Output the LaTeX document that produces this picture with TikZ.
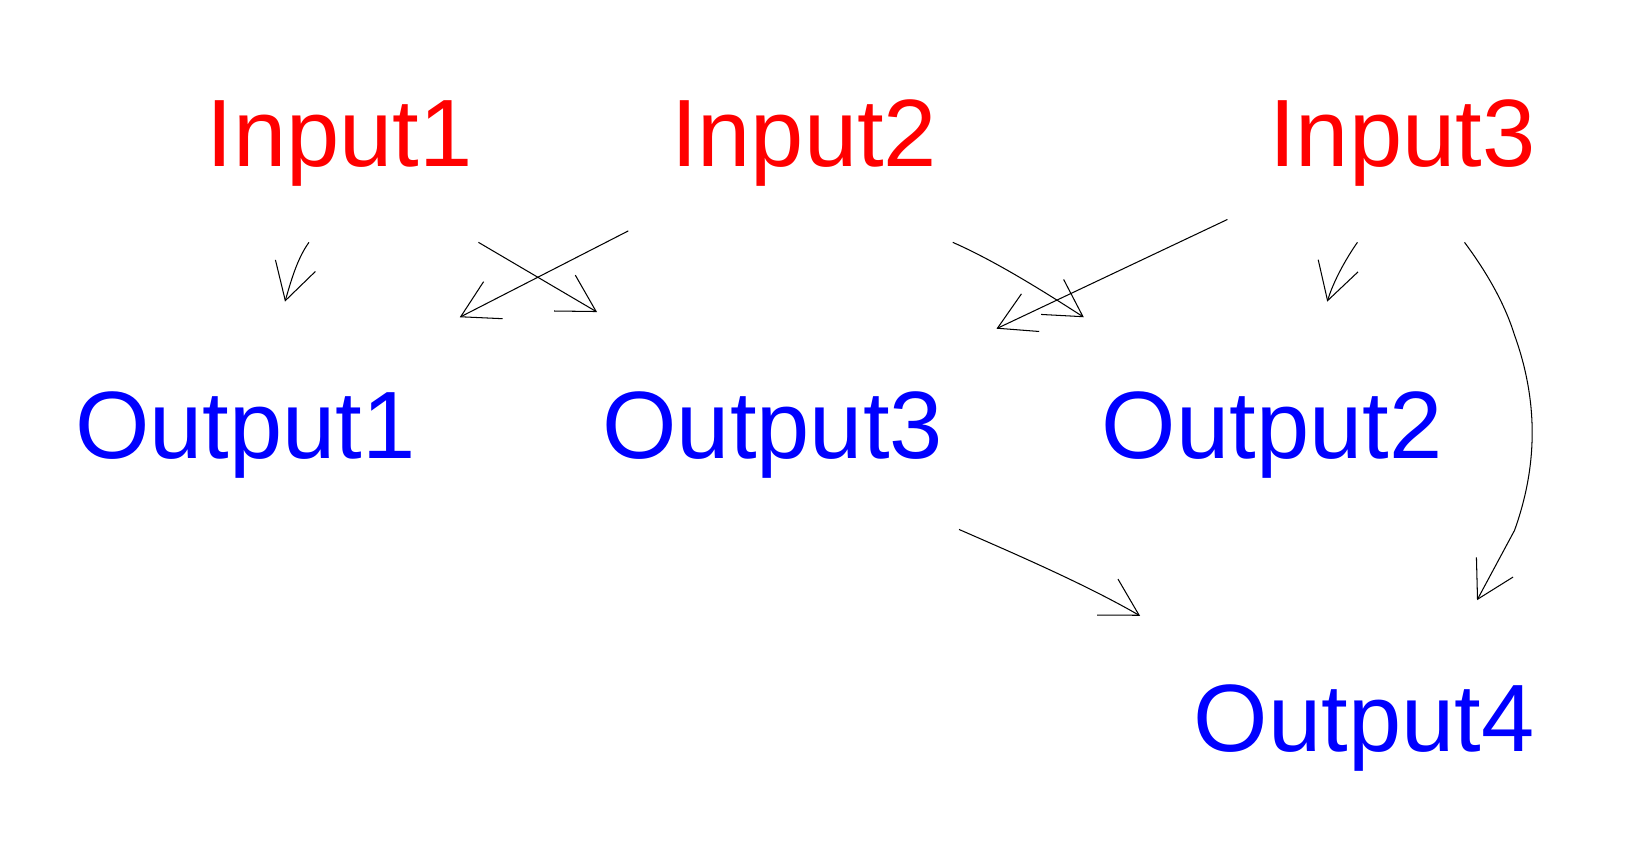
\documentclass[tikz,border=0pt]{standalone}
\usepackage{fontspec}
\setmainfont{Liberation Sans}
\usetikzlibrary{arrows.meta}

\begin{document}
\begin{tikzpicture}[
    x=1pt, y=-1pt,
    innode/.style={text=red, inner sep=0pt, anchor=base west, font=\fontsize{92}{92}\selectfont},
    outnode/.style={innode, text=blue},
    edge/.style={line width=1pt, -{Straight Barb[length=35pt, width=40pt]}}
    ]
    \useasboundingbox (0,0) rectangle (1569,831);

    \node[innode] (in1) at (198.5,160) {Input1};
    \node[innode] (in2) at (645,160) {Input2};
    \node[innode] (in3) at (1220,160) {Input3};

    \node[outnode] (out1) at (72,441) {Output1};
    \node[outnode] (out3) at (579,441) {Output3};
    \node[outnode] (out2) at (1059,441) {Output2};
    \node[outnode] (out4) at (1147.5,722) {Output4};

    \draw[edge] ([shift={(98.5,73)}]in1.base west) .. controls (285.5,249) and (279.5,271) .. ([shift={(202,-151)}]out1.base west);
    \draw[edge] ([shift={(-41,62)}]in2.base west) -- ([shift={(370,-136)}]out1.base west);
    \draw[edge] ([shift={(261.5,73)}]in1.base west) -- ([shift={(-5,-141)}]out3.base west);
    \draw[edge] ([shift={(271,73)}]in2.base west) .. controls (957,251) and (1004,280.5) .. ([shift={(-17,-136)}]out2.base west);
    \draw[edge] ([shift={(-40,51)}]in3.base west) -- ([shift={(379,-125)}]out3.base west);
    \draw[edge] ([shift={(85,73)}]in3.base west) .. controls (1293.5,249.4) and (1281.8,270.9) .. ([shift={(217,-151)}]out2.base west);
    \draw[edge] ([shift={(188,73)}]in3.base west) .. controls (1428,260) and (1446,290) .. (1456,322)
        .. controls (1478.7,385) and (1478.7,447) .. (1456,510) -- ([shift={(272.5,-145)}]out4.base west);
    \draw[edge] ([shift={(343,68)}]out3.base west) .. controls (977,533) and (1044,562) .. ([shift={(-51.5,-130)}]out4.base west);
\end{tikzpicture}
\end{document}
